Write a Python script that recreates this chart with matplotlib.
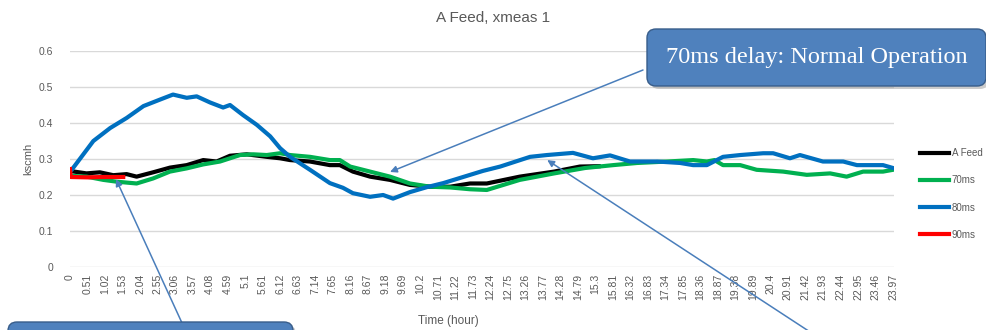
import numpy as np
import matplotlib.pyplot as plt
from matplotlib.patches import FancyBboxPatch

# A Feed (xmeas 1) over a 24 hour run, one series per network delay
t_feed = [0, 0.05, 0.48, 0.87, 1.26, 1.65, 1.94, 2.42, 2.91, 3.4, 3.88, 4.27, 4.66,
          5.15, 5.73, 6.12, 6.41, 6.99, 7.57, 7.86, 8.24, 8.74, 9.32, 9.9, 10.49,
          11.07, 11.65, 12.14, 13.1, 14.1, 14.85, 15.4]
v_feed = [0.27, 0.266, 0.26, 0.263, 0.255, 0.258, 0.251, 0.263, 0.276, 0.283, 0.297,
          0.293, 0.309, 0.313, 0.306, 0.302, 0.297, 0.293, 0.283, 0.283, 0.265, 0.251,
          0.242, 0.228, 0.223, 0.223, 0.232, 0.232, 0.251, 0.265, 0.279, 0.28]

t_70 = [0, 0.05, 0.48, 0.97, 1.36, 1.94, 2.42, 2.91, 3.4, 3.88, 4.37, 4.95, 5.34,
        5.73, 6.12, 6.41, 6.99, 7.57, 7.86, 8.16, 8.74, 9.32, 9.9, 10.49, 11.07,
        11.65, 12.14, 13.1, 14.1, 15.0, 15.82, 16.52, 17.4, 18.15, 18.55, 18.77,
        19.02, 19.52, 20.0, 20.77, 21.46, 22.14, 22.62, 23.1, 23.68, 23.97]
v_70 = [0.255, 0.253, 0.251, 0.242, 0.237, 0.232, 0.246, 0.265, 0.274, 0.285, 0.293,
        0.311, 0.313, 0.311, 0.316, 0.311, 0.306, 0.297, 0.297, 0.279, 0.265, 0.251,
        0.232, 0.223, 0.221, 0.216, 0.214, 0.242, 0.26, 0.275, 0.283, 0.289, 0.293,
        0.297, 0.293, 0.297, 0.283, 0.283, 0.27, 0.265, 0.256, 0.26, 0.251, 0.265,
        0.265, 0.27]

t_80 = [0, 0.05, 0.68, 1.17, 1.65, 2.14, 2.62, 3.0, 3.4, 3.69, 4.08, 4.46, 4.66,
        5.04, 5.44, 5.83, 6.12, 6.41, 6.99, 7.57, 7.95, 8.24, 8.74, 9.12, 9.41,
        9.9, 10.4, 10.87, 11.45, 12.03, 12.53, 13.4, 13.89, 14.65, 15.23, 15.73,
        16.31, 17.1, 17.77, 18.15, 18.55, 19.02, 19.52, 20.19, 20.48, 20.97, 21.26,
        21.93, 22.52, 22.92, 23.68, 23.97]
v_80 = [0.265, 0.27, 0.35, 0.386, 0.414, 0.447, 0.465, 0.479, 0.47, 0.474, 0.457,
        0.443, 0.45, 0.422, 0.395, 0.363, 0.33, 0.306, 0.27, 0.233, 0.22, 0.205,
        0.195, 0.2, 0.19, 0.208, 0.222, 0.233, 0.25, 0.267, 0.279, 0.306, 0.311,
        0.317, 0.302, 0.31, 0.293, 0.293, 0.289, 0.283, 0.283, 0.306, 0.311, 0.316,
        0.316, 0.302, 0.311, 0.293, 0.293, 0.283, 0.283, 0.275]

t_90 = [0, 0.02, 0.5, 1.0, 1.55]
v_90 = [0.272, 0.25, 0.249, 0.25, 0.25]

hour_ticks = np.round(np.arange(48) * 0.51, 2)
grey = '#595959'
box_blue = '#4f81bd'
arrow_blue = '#4a7ebb'

plt.rcParams['font.family'] = ['Liberation Sans', 'DejaVu Sans']

fig = plt.figure(figsize=(9.87, 3.3), dpi=100)
ax = fig.add_axes([70/987, 1-267/330, 824/987, 216/330])

ax.plot(t_feed, v_feed, color='black', lw=3, label='A Feed')
ax.plot(t_70, v_70, color='#00b050', lw=3, label='70ms')
ax.plot(t_80, v_80, color='#0070c0', lw=3, label='80ms')
ax.plot(t_90, v_90, color='#ff0000', lw=3, label='90ms')

ax.set_xlim(0, 24.0)
ax.set_ylim(0, 0.6)
ax.set_yticks(np.arange(0, 0.61, 0.1))
ax.set_yticklabels(['0', '0.1', '0.2', '0.3', '0.4', '0.5', '0.6'])
ax.set_xticks(hour_ticks)
ax.set_xticklabels(['%g' % h for h in hour_ticks], rotation=90)
ax.tick_params(length=0, labelsize=7.5, colors=grey)
ax.tick_params(axis='x', pad=5)
ax.tick_params(axis='y', pad=12)
ax.grid(axis='y', color='#d9d9d9', lw=1)
ax.set_axisbelow(True)
for s in ax.spines.values():
    s.set_visible(False)

ax.set_ylabel('kscmh', color=grey, fontsize=8, labelpad=4)
fig.text(448/987, 1-321/330, 'Time (hour)', color=grey, fontsize=8.5,
         ha='center', va='center')
fig.text(493/987, 1-18/330, 'A Feed, xmeas 1', color=grey, fontsize=11,
         ha='center', va='center')

fig.legend(loc='center left', bbox_to_anchor=(915/987, 1-194/330), frameon=False,
           fontsize=7, labelcolor=grey, handlelength=3.0, handletextpad=0.3,
           labelspacing=1.75, borderpad=0)


def callout(x, y, w, h, text=None):
    # rounded box in inches, with a soft drop shadow
    tr = fig.dpi_scale_trans
    shadow = FancyBboxPatch((x + 0.03, y - 0.03), w, h,
                            boxstyle='round,pad=0,rounding_size=0.09',
                            transform=tr, fc='#9a9a9a', ec='none', alpha=0.5)
    box = FancyBboxPatch((x, y), w, h, boxstyle='round,pad=0,rounding_size=0.09',
                         transform=tr, fc=box_blue, ec='#385d8a', lw=1)
    fig.patches.extend([shadow, box])
    if text:
        fig.text(x + w/2, y + h/2, text, transform=tr, ha='center', va='center',
                 color='white', fontsize=17.5, family='Liberation Serif')


callout(6.47, 2.44, 3.39, 0.57, '70ms delay: Normal Operation')
callout(0.08, -0.5, 2.85, 0.58)

arrow = dict(arrowstyle='-|>', color=arrow_blue, lw=1.1, mutation_scale=10,
             shrinkA=0, shrinkB=0)
ax.annotate('', xy=(9.32, 0.264), xytext=(643/987, 1-70/330),
            textcoords='figure fraction', arrowprops=arrow, annotation_clip=False)
ax.annotate('', xy=(1.34, 0.244), xytext=(182/987, 1-323/330),
            textcoords='figure fraction', arrowprops=arrow, annotation_clip=False)
ax.annotate('', xy=(13.9, 0.297), xytext=(830/987, 1-345/330),
            textcoords='figure fraction', arrowprops=arrow, annotation_clip=False)

fig.savefig('out.png', dpi=100)
